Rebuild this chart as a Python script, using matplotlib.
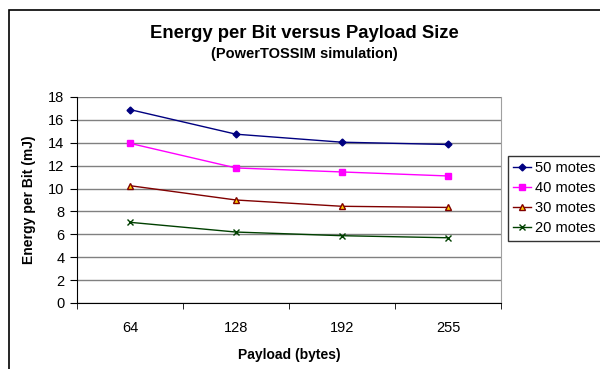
import matplotlib.pyplot as plt
from matplotlib.patches import Rectangle

plt.rcParams['font.family'] = ['Liberation Sans', 'DejaVu Sans']

# payload sizes (categories) and energy per bit (mJ) for each mote count
payload = ['64', '128', '192', '255']
motes_50 = [16.9, 14.75, 14.05, 13.85]
motes_40 = [13.95, 11.8, 11.45, 11.1]
motes_30 = [10.25, 9.0, 8.45, 8.35]
motes_20 = [7.05, 6.2, 5.88, 5.7]

W, H = 600, 369
fig = plt.figure(figsize=(6, 3.69), dpi=100)

# outer chart border (runs off the right/bottom edge like the original)
fig.patches.append(Rectangle((9 / W, -0.1), 1.2, 1 - 10 / H + 0.1,
                             transform=fig.transFigure, fill=False,
                             edgecolor='black', linewidth=1.2))

ax = fig.add_axes([77 / W, (H - 303) / H, 424 / W, 206 / H])

x = range(len(payload))
ax.plot(x, motes_50, color='#000080', marker='D', markersize=3.5, lw=1, label='50 motes')
ax.plot(x, motes_40, color='#ff00ff', marker='s', markersize=5, lw=1, label='40 motes')
ax.plot(x, motes_30, color='#800000', marker='^', markersize=5, markerfacecolor='#ffcc00',
        markeredgecolor='#800000', lw=1, label='30 motes')
ax.plot(x, motes_20, color='#004000', marker='x', markersize=4, lw=1, label='20 motes')

ax.set_xlim(-0.5, 3.5)
ax.set_ylim(0, 18)
ax.set_yticks(range(0, 19, 2))
ax.set_xticks(x)
ax.set_xticklabels(payload)
ax.set_xticks([-0.5, 0.5, 1.5, 2.5, 3.5], minor=True)
ax.tick_params(axis='x', which='major', length=0, labelsize=10.5, pad=13)
ax.tick_params(axis='x', which='minor', length=4, direction='out')
ax.tick_params(axis='y', length=5, direction='out', labelsize=10.5, pad=4)
ax.grid(axis='y', color='#808080', lw=1)
ax.set_axisbelow(True)
ax.spines['top'].set_visible(False)
ax.spines['right'].set_color('#a0a0a0')
ax.spines['left'].set_color('black')
ax.spines['bottom'].set_color('black')

ax.set_xlabel('Payload (bytes)', fontsize=10, fontweight='bold', labelpad=9)
ax.set_ylabel('Energy per Bit (mJ)', fontsize=10, fontweight='bold', labelpad=9)

fig.text(0.5 * (77 + 531) / W, 1 - 33 / H, 'Energy per Bit versus Payload Size',
         ha='center', va='center', fontsize=13.3, fontweight='bold')
fig.text(0.5 * (77 + 531) / W, 1 - 54 / H, '(PowerTOSSIM simulation)',
         ha='center', va='center', fontsize=10.5, fontweight='bold')

leg = fig.legend(loc='upper left', bbox_to_anchor=(508 / W, 1 - 156 / H), fontsize=10.5,
                 frameon=True, fancybox=False, edgecolor='black', handlelength=1.2,
                 handletextpad=0.3, borderpad=0.35, labelspacing=0.42, borderaxespad=0)
leg.get_frame().set_linewidth(1)

fig.savefig('out.png', dpi=100)
